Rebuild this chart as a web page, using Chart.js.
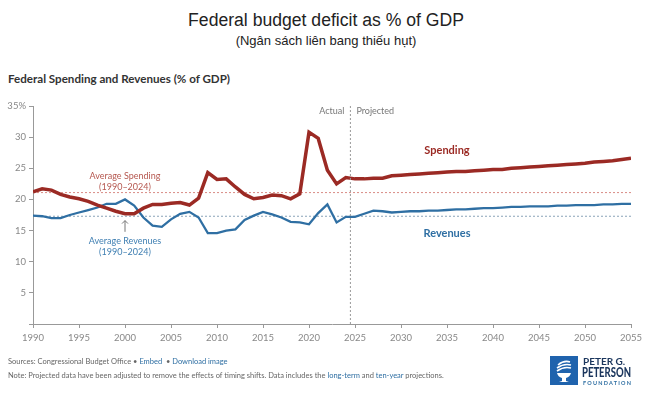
<!DOCTYPE html>
<html>
<head>
<meta charset="utf-8">
<script src="https://cdn.jsdelivr.net/npm/chart.js@4"></script>
<style>
  body { margin: 0; background: #fff; width: 652px; height: 398px; overflow: hidden; position: relative; font-family: Lato, sans-serif; }
  #chart { position: absolute; left: 0; top: 0; }
  .title { position: absolute; left: 0; width: 652px; text-align: center; font-family: "Liberation Sans", Arial, sans-serif; color: #222; }
  .sub { position: absolute; left: 8px; top: 72px; font-size: 11.6px; font-weight: bold; color: #333; }
  .foot { position: absolute; left: 8px; font-size: 7.5px; color: #666; white-space: nowrap; }
  .foot a { color: #2f6fa3; text-decoration: none; }
  .logo { position: absolute; left: 550px; top: 356px; }
</style>
</head>
<body>
<div class="title" style="top:10px;font-size:17.6px;">Federal budget deficit as % of GDP</div>
<div class="title" style="top:33px;font-size:13px;">(Ngân sách liên bang thiếu hụt)</div>
<div class="sub">Federal Spending and Revenues (% of GDP)</div>
<canvas id="chart" width="652" height="398"></canvas>
<div class="foot" style="top:357px;">Sources: Congressional Budget Office &bull; <a>Embed</a> &nbsp;&bull; <a>Download image</a></div>
<div class="foot" style="top:371px;">Note: Projected data have been adjusted to remove the effects of timing shifts. Data includes the <a>long-term</a> and <a>ten-year</a> projections.</div>
<div class="logo">
  <svg width="100" height="30">
    <rect x="0" y="0" width="28" height="29" fill="#1f63ad"/>
    <path d="M8 9 Q14 4 20 6 M7 12 Q14 7 21 9 M7 15 Q14 10 21 12" stroke="#fff" stroke-width="1.6" fill="none"/>
    <path d="M7 17 L21 17 Q20 21 16 22 L16 25 L19 26 L9 26 L12 25 L12 22 Q8 21 7 17 Z" fill="#fff"/>
    <text x="33" y="9" font-family="Lato" font-weight="bold" font-size="10" fill="#1b365d">PETER G.</text>
    <text x="32" y="20.5" font-family="Lato" font-weight="900" font-size="12.5" textLength="49" lengthAdjust="spacingAndGlyphs" fill="#1b365d">PETERSON</text>
    <text x="33" y="28.5" font-family="Lato" font-weight="bold" font-size="5.5" textLength="48" lengthAdjust="spacing" fill="#2f6fa3">FOUNDATION</text>
  </svg>
</div>
<script>
const years = [];
for (let y = 1990; y <= 2055; y++) years.push(y);

const spending = [
  21.2, 21.7, 21.5, 20.8, 20.4, 20.1, 19.7, 19.1, 18.6, 18.1,
  17.7, 17.7, 18.6, 19.2, 19.2, 19.4, 19.5, 19.1, 20.2, 24.3,
  23.2, 23.3, 22.0, 20.8, 20.1, 20.3, 20.7, 20.6, 20.1, 20.9,
  30.8, 29.8, 24.7, 22.5, 23.5,
  23.3, 23.3, 23.4, 23.4, 23.8, 23.9, 24.0, 24.1, 24.2, 24.3,
  24.4, 24.5, 24.5, 24.6, 24.7, 24.8, 24.8, 25.0, 25.1, 25.2,
  25.3, 25.4, 25.5, 25.6, 25.7, 25.8, 26.0, 26.1, 26.2, 26.4, 26.6
];
const revenues = [
  17.4, 17.3, 17.0, 17.0, 17.5, 17.9, 18.3, 18.7, 19.3, 19.3,
  20.0, 19.0, 17.1, 15.8, 15.6, 16.8, 17.7, 18.0, 17.1, 14.6,
  14.6, 15.0, 15.2, 16.7, 17.4, 18.0, 17.6, 17.1, 16.4, 16.3,
  16.0, 17.8, 19.2, 16.3, 17.2,
  17.2, 17.7, 18.2, 18.1, 17.9, 18.0, 18.1, 18.1, 18.2, 18.2,
  18.3, 18.4, 18.4, 18.5, 18.6, 18.6, 18.7, 18.8, 18.8, 18.9,
  18.9, 18.9, 19.0, 19.0, 19.1, 19.1, 19.1, 19.2, 19.2, 19.3, 19.3
];
const avgSpending = 21.1;
const avgRevenues = 17.3;
const yTicks = [0, 5, 10, 15, 20, 25, 30, 35];

const red = '#9b2a24';
const blue = '#2f6fa3';

const annotate = {
  id: 'annotate',
  afterDatasetsDraw(chart) {
    const c = chart.ctx, x = chart.scales.x, y = chart.scales.y, a = chart.chartArea;
    c.save();
    // actual / projected divider
    const xd = x.getPixelForValue(2024.5);
    c.strokeStyle = '#999'; c.lineWidth = 1; c.setLineDash([2, 2]);
    c.beginPath(); c.moveTo(xd, a.top); c.lineTo(xd, a.bottom); c.stroke();
    c.setLineDash([]);
    c.font = '9px Lato'; c.fillStyle = '#777'; c.textBaseline = 'middle';
    c.textAlign = 'right'; c.fillText('Actual', xd - 6, a.top + 5);
    c.textAlign = 'left'; c.fillText('Projected', xd + 6, a.top + 5);

    c.textAlign = 'center';
    c.font = 'bold 11px Lato';
    c.fillStyle = red; c.fillText('Spending', x.getPixelForValue(2035), y.getPixelForValue(27.9));
    c.fillStyle = blue; c.fillText('Revenues', x.getPixelForValue(2035), y.getPixelForValue(14.6));

    c.font = '9px Lato';
    c.fillStyle = '#b5574f';
    c.fillText('Average Spending', x.getPixelForValue(2000), y.getPixelForValue(23.8));
    c.fillText('(1990–2024)', x.getPixelForValue(2000), y.getPixelForValue(22.0));
    c.fillStyle = '#3f7fb2';
    c.fillText('Average Revenues', x.getPixelForValue(2000), y.getPixelForValue(13.3));
    c.fillText('(1990–2024)', x.getPixelForValue(2000), y.getPixelForValue(11.5));

    // arrow
    const xa = x.getPixelForValue(2000), y1 = y.getPixelForValue(16.6), y2 = y.getPixelForValue(14.8);
    c.strokeStyle = '#777'; c.lineWidth = 1;
    c.beginPath(); c.moveTo(xa, y2); c.lineTo(xa, y1);
    c.moveTo(xa - 3, y1 + 3); c.lineTo(xa, y1); c.lineTo(xa + 3, y1 + 3); c.stroke();
    c.restore();
  }
};

const ctx = document.getElementById('chart').getContext('2d');
const chart = new Chart(ctx, {
  type: 'line',
  data: {
    datasets: [
      { data: years.map((y, i) => ({ x: y, y: spending[i] })), borderColor: red, borderWidth: 3.5, pointRadius: 0, order: 1 },
      { data: years.map((y, i) => ({ x: y, y: revenues[i] })), borderColor: blue, borderWidth: 2.3, pointRadius: 0, order: 2 },
      { data: [{ x: 1990, y: avgSpending }, { x: 2055, y: avgSpending }], borderColor: '#d98c85', borderWidth: 1, borderDash: [2, 2], pointRadius: 0, order: 3 },
      { data: [{ x: 1990, y: avgRevenues }, { x: 2055, y: avgRevenues }], borderColor: '#8aa3b8', borderWidth: 1, borderDash: [2, 2], pointRadius: 0, order: 4 }
    ]
  },
  options: {
    responsive: false,
    animation: false,
    devicePixelRatio: 1,
    layout: { padding: { top: 106, right: 21, left: 0, bottom: 0 } },
    plugins: { legend: { display: false }, tooltip: { enabled: false } },
    scales: {
      x: {
        type: 'linear', min: 1990, max: 2055,
        afterFit: s => { s.height = 74; },
        grid: { display: true, drawOnChartArea: false, tickLength: 4, color: '#999' },
        border: { color: '#999' },
        ticks: { stepSize: 5, color: '#888', font: { family: 'Lato', size: 9.5 }, padding: 4, maxRotation: 0, callback: v => String(v) }
      },
      y: {
        min: 0, max: 35,
        afterFit: s => { s.width = 33; },
        afterBuildTicks: s => { s.ticks = yTicks.map(v => ({ value: v })); },
        grid: { display: true, drawOnChartArea: false, tickLength: 4, color: '#999' },
        border: { color: '#999' },
        ticks: { color: '#888', font: { family: 'Lato', size: 9.5 }, padding: 3, callback: v => v === 35 ? '35%' : (v === 0 ? '' : v) }
      }
    }
  },
  plugins: [annotate]
});
</script>
</body>
</html>
